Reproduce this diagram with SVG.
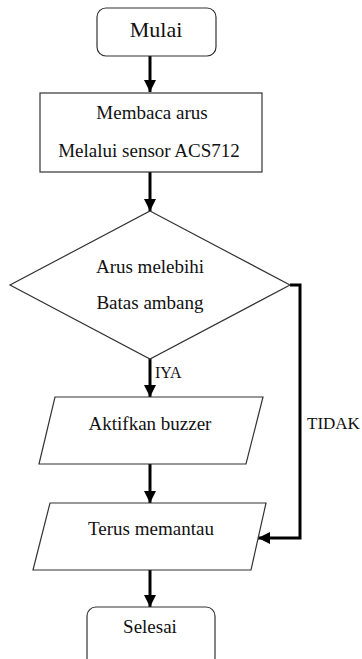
<svg xmlns="http://www.w3.org/2000/svg" width="362" height="659" viewBox="0 0 362 659">
<defs>
<marker id="ah" markerUnits="userSpaceOnUse" markerWidth="12" markerHeight="12" viewBox="0 0 12 12" refX="12" refY="6" orient="auto">
<path d="M0,0 L12,6 L0,12 Z" fill="#000"/>
</marker>
<style>
.s{fill:#fff;stroke:#333;stroke-width:1.2}
.t{font-size:19px;text-anchor:middle;fill:#111}
.l{font-size:17px;fill:#111}
.c{fill:none;stroke:#000;stroke-width:3}
</style>
</defs>
<rect width="362" height="659" fill="#fff"/>
<g font-family="Times New Roman, Liberation Serif, DejaVu Serif, serif">
<g id="connectors">
<line class="c" x1="150" y1="56" x2="150" y2="92" marker-end="url(#ah)"/>
<line class="c" x1="150" y1="172" x2="150" y2="211" marker-end="url(#ah)"/>
<line class="c" x1="150" y1="359" x2="150" y2="397" marker-end="url(#ah)"/>
<line class="c" x1="150" y1="464" x2="150" y2="503" marker-end="url(#ah)"/>
<line class="c" x1="150" y1="570" x2="150" y2="607" marker-end="url(#ah)"/>
<polyline class="c" points="290,285 300,285 300,538 258,538" marker-end="url(#ah)"/>
<text class="l" x="155" y="378" style="font-size:16px">IYA</text>
<text class="l" x="307" y="429">TIDAK</text>
</g>
<g id="mulai">
<rect class="s" x="97" y="8" width="119" height="48" rx="9"/>
<text class="t" x="156" y="37" style="font-size:22px">Mulai</text>
</g>
<g id="membaca">
<rect class="s" x="40" y="93" width="222" height="79"/>
<text class="t" x="152" y="119">Membaca arus</text>
<text class="t" x="149" y="157">Melalui sensor ACS712</text>
</g>
<g id="keputusan">
<polygon class="s" points="150,211 290,285 150,359 10,285"/>
<text class="t" x="150" y="273">Arus melebihi</text>
<text class="t" x="150" y="309">Batas ambang</text>
</g>
<g id="buzzer">
<polygon class="s" points="55,397 263,397 246,464 39,464"/>
<text class="t" x="150" y="430">Aktifkan buzzer</text>
</g>
<g id="pantau">
<polygon class="s" points="50,503 266,503 251,570 33,570"/>
<text class="t" x="151" y="535">Terus memantau</text>
</g>
<g id="selesai">
<rect class="s" x="87" y="607" width="128" height="60" rx="9"/>
<text class="t" x="150" y="633">Selesai</text>
</g>
</g>
</svg>
